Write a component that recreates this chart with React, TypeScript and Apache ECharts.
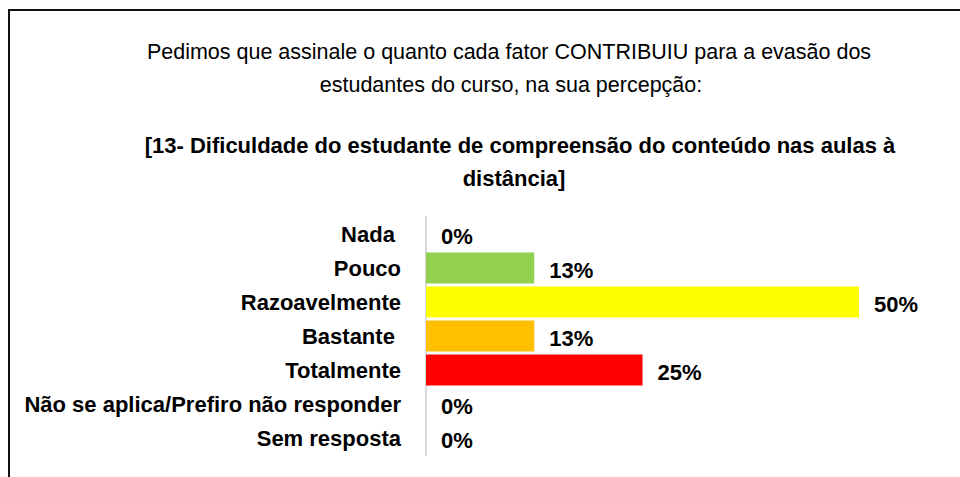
import React, { useEffect, useRef } from "react";
import * as echarts from "echarts";

const titleLines = [
  "Pedimos que assinale o quanto cada fator CONTRIBUIU para a evasão dos",
  "estudantes do curso, na sua percepção:",
];
const subtitleLines = [
  "[13- Dificuldade do estudante de compreensão do conteúdo nas aulas à",
  "distância]",
];
const categories = [
  "Nada ",
  "Pouco",
  "Razoavelmente",
  "Bastante ",
  "Totalmente",
  "Não se aplica/Prefiro não responder",
  "Sem resposta",
];
const values = [0, 12.5, 50, 12.5, 25, 0, 0];
const barColors = ["#92d050", "#92d050", "#ffff00", "#ffc000", "#ff0000", "#92d050", "#92d050"];

const FONT = "'Liberation Sans', Arial, sans-serif";

export default function App() {
  const ref = useRef<HTMLDivElement>(null);
  useEffect(() => {
    document.body.style.margin = "0";
    if (!ref.current) return;
    const chart = echarts.init(ref.current, undefined, { renderer: "svg" });
    chart.setOption({
      animation: false,
      backgroundColor: "#ffffff",
      graphic: [
        {
          type: "rect",
          shape: { x: 9, y: 10, width: 1000, height: 600 },
          style: { fill: "none", stroke: "#111", lineWidth: 2 },
          silent: true,
        },
        {
          type: "text",
          x: 509,
          y: 52,
          style: { text: titleLines[0], font: `21.5px ${FONT}`, fill: "#000", textAlign: "center", textVerticalAlign: "middle" },
        },
        {
          type: "text",
          x: 511,
          y: 85,
          style: { text: titleLines[1], font: `21.5px ${FONT}`, fill: "#000", textAlign: "center", textVerticalAlign: "middle" },
        },
        {
          type: "text",
          x: 520,
          y: 145,
          style: { text: subtitleLines[0], font: `bold 22px ${FONT}`, fill: "#000", textAlign: "center", textVerticalAlign: "middle" },
        },
        {
          type: "text",
          x: 514,
          y: 178,
          style: { text: subtitleLines[1], font: `bold 22px ${FONT}`, fill: "#000", textAlign: "center", textVerticalAlign: "middle" },
        },
      ],
      grid: { left: 426, top: 217, width: 433, height: 238, containLabel: false },
      xAxis: { type: "value", min: 0, max: 50, show: false, splitLine: { show: false } },
      yAxis: {
        type: "category",
        inverse: true,
        data: categories,
        axisLine: { show: true, lineStyle: { color: "#d9d9d9", width: 2 } },
        axisTick: { show: false },
        axisLabel: { margin: 25, color: "#000", fontFamily: FONT, fontWeight: "bold", fontSize: 22 },
      },
      series: [
        {
          type: "bar",
          data: values.map((v, i) => ({ value: v, itemStyle: { color: barColors[i] } })),
          barCategoryGap: "9%",
          label: {
            show: true,
            position: "right",
            distance: 15,
            offset: [0, 2],
            color: "#000",
            fontFamily: FONT,
            fontWeight: "bold",
            fontSize: 22,
            formatter: (p: any) => Math.round(p.value) + "%",
          },
        },
      ],
    });
    return () => chart.dispose();
  }, []);
  return <div ref={ref} style={{ width: 960, height: 477 }} />;
}
